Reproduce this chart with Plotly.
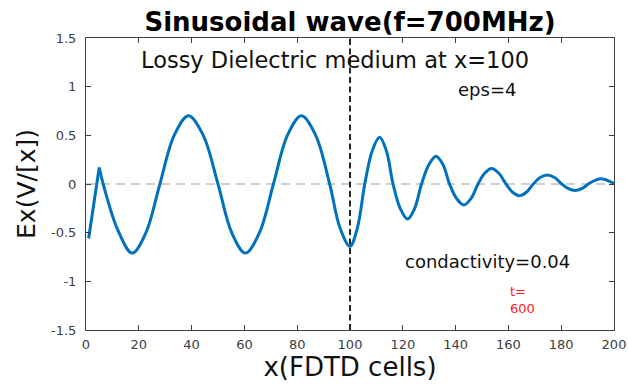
import plotly.graph_objects as go

# Ex field snapshot along the FDTD grid (t = 600)
x_cells = [1, 5, 6.5, 12, 17.5, 22.7, 28, 33.4, 38.8, 44.4, 50, 55.2, 60.4, 65.7, 71,
           76.3, 81.6, 87, 92.3, 96.2, 100, 102.8, 105.6, 108.4, 111.2, 113.8, 116.3,
           119, 121.8, 124.5, 127.1, 129.9, 132.6, 135.2, 137.7, 140.4, 143.1, 145.8,
           148.5, 151, 153.6, 156.4, 159.1, 161.6, 164.1, 166.8, 169.4, 172, 174.7,
           177.5, 180.2, 182.7, 185.2, 187.8, 190.3, 192.8, 195.4, 200]
ex_field = [-0.56, 0.17, 0.0, -0.47, -0.71, -0.5, 0.0, 0.5, 0.70, 0.5, 0.0, -0.5, -0.71, -0.5, 0.0,
            0.5, 0.70, 0.5, 0.0, -0.45, -0.64, -0.45, 0.0, 0.34, 0.48, 0.34, 0.0,
            -0.25, -0.36, -0.25, 0.0, 0.2, 0.285, 0.2, 0.0, -0.15, -0.215, -0.15,
            0.0, 0.11, 0.16, 0.11, 0.0, -0.085, -0.12, -0.085, 0.0, 0.066, 0.093,
            0.066, 0.0, -0.047, -0.067, -0.047, 0.0, 0.038, 0.054, 0.005]

x_ticks = [0, 20, 40, 60, 80, 100, 120, 140, 160, 180, 200]
y_ticks = [-1.5, -1, -0.5, 0, 0.5, 1, 1.5]
y_tick_labels = ["-1.5", "-1", "-0.5", "0", "0.5", "1", "1.5"]

interface_x = 100   # start of the lossy dielectric
source_edge = 2     # first points near the source are joined straight

FONT = "DejaVu Sans"
BLUE = "#0072BD"
AXIS = "#404040"

fig = go.Figure()

# source region: straight segment up to the sharp first peak
fig.add_trace(go.Scatter(
    x=x_cells[:source_edge], y=ex_field[:source_edge], mode="lines",
    line=dict(color=BLUE, width=3), showlegend=False, hoverinfo="skip"))
# propagating wave: smooth curve through the remaining samples
fig.add_trace(go.Scatter(
    x=x_cells[source_edge - 1:], y=ex_field[source_edge - 1:], mode="lines",
    line=dict(color=BLUE, width=3, shape="spline", smoothing=1.0),
    showlegend=False))

fig.add_hline(y=0, line=dict(color="#a0a0a0", width=1.2, dash="9px,6px"), layer="below")
fig.add_vline(x=interface_x, line=dict(color="#262626", width=2, dash="6px,3.5px"), layer="above")

fig.add_annotation(x=20, y=1.27, xref="x", yref="y", xanchor="left", yanchor="middle",
                   text="Lossy Dielectric medium at x=100", showarrow=False,
                   font=dict(family=FONT, size=22.5, color="#111111"))
fig.add_annotation(x=140, y=0.97, xref="x", yref="y", xanchor="left", yanchor="middle",
                   text="eps=4", showarrow=False,
                   font=dict(family=FONT, size=18, color="#111111"))
fig.add_annotation(x=120, y=-0.80, xref="x", yref="y", xanchor="left", yanchor="middle",
                   text="condactivity=0.04", showarrow=False,
                   font=dict(family=FONT, size=18, color="#111111"))
fig.add_annotation(x=160, y=-1.19, xref="x", yref="y", xanchor="left", yanchor="middle",
                   align="left", text="t=<br>600", showarrow=False,
                   font=dict(family=FONT, size=13, color="#ff1a1a"))

axis_common = dict(
    showline=True, linecolor=AXIS, linewidth=1, mirror="ticks",
    ticks="inside", ticklen=5, tickwidth=1, tickcolor=AXIS,
    showgrid=False, zeroline=False,
    tickfont=dict(family=FONT, size=13, color=AXIS),
)

fig.update_xaxes(range=[0, 200], tickvals=x_ticks, ticklabelstandoff=2,
                 title=dict(text="x(FDTD cells)", standoff=0,
                            font=dict(family=FONT, size=26, color="#111111")),
                 **axis_common)
fig.update_yaxes(range=[-1.5, 1.5], tickvals=y_ticks, ticktext=y_tick_labels,
                 ticklabelstandoff=6,
                 title=dict(text="Ex(V/[x])", standoff=8,
                            font=dict(family=FONT, size=25, color="#111111")),
                 **axis_common)

fig.update_layout(
    width=628, height=385,
    margin=dict(l=86, r=14, t=38, b=55, autoexpand=False),
    paper_bgcolor="white", plot_bgcolor="white",
    title=dict(text="<b>Sinusoidal wave(f=700MHz)</b>", x=0.5, xref="paper",
               y=1 - 21.5 / 385, yanchor="middle",
               font=dict(family=FONT, size=26, color="#000000")),
)

fig.write_html("out.html")
